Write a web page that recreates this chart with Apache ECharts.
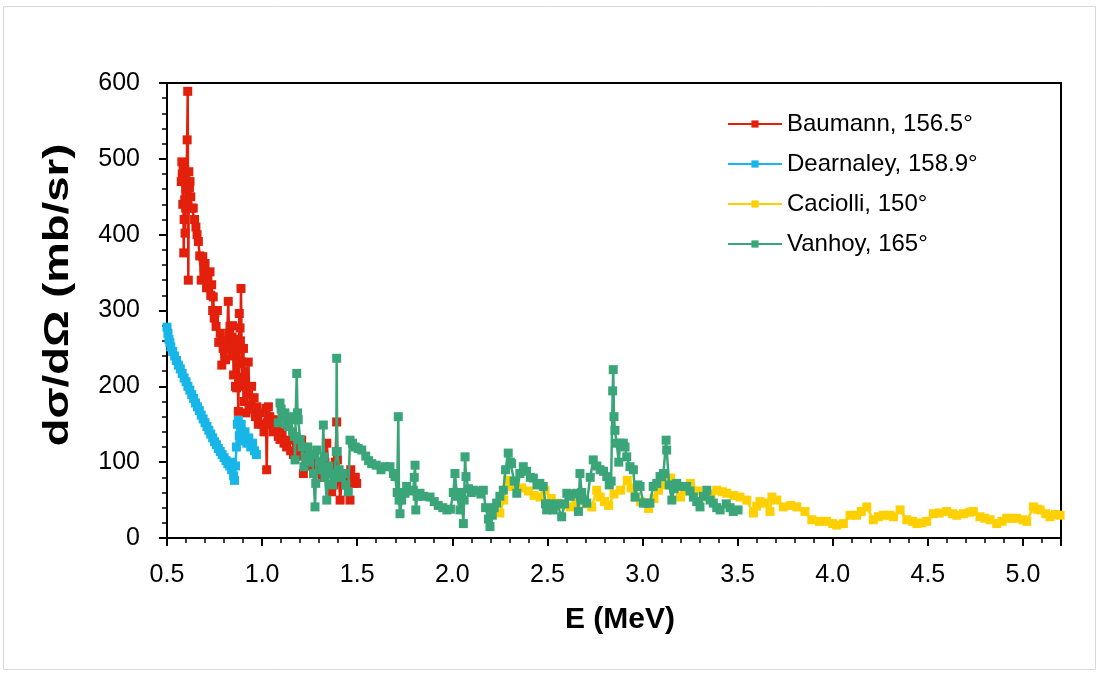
<!DOCTYPE html>
<html>
<head>
<meta charset="utf-8">
<script src="https://cdn.jsdelivr.net/npm/echarts@6/dist/echarts.min.js"></script>
<style>
  html, body { margin: 0; padding: 0; background: #fff; }
  #chart { width: 1099px; height: 675px; }
</style>
</head>
<body>
<div id="chart"></div>
<script>
// series names
var seriesNames = ['Baumann, 156.5°', 'Dearnaley, 158.9°', 'Caciolli, 150°', 'Vanhoy, 165°'];
var seriesColors = ['#e2200c', '#18b6e8', '#ffd000', '#3aa579'];

// x tick labels
var xTicks = ['0.5', '1.0', '1.5', '2.0', '2.5', '3.0', '3.5', '4.0', '4.5', '5.0'];

// Baumann  [E (MeV), dsigma/dOmega (mb/sr)]
var baumann = [
  [0.575, 470], [0.578, 496], [0.580, 480], [0.583, 440], [0.585, 485], [0.588, 376],
  [0.590, 420], [0.593, 446], [0.595, 402], [0.598, 435], [0.600, 460], [0.603, 470],
  [0.606, 525], [0.609, 589], [0.612, 340], [0.615, 483], [0.618, 462], [0.621, 470],
  [0.625, 450], [0.630, 435], [0.638, 435], [0.645, 420], [0.652, 410], [0.658, 400],
  [0.665, 391], [0.672, 372], [0.680, 340], [0.688, 371], [0.695, 350], [0.700, 362],
  [0.708, 330], [0.715, 345], [0.726, 351], [0.730, 320], [0.735, 334], [0.740, 300],
  [0.743, 318], [0.748, 290], [0.752, 297], [0.758, 279], [0.765, 300], [0.772, 258],
  [0.780, 270], [0.788, 228], [0.795, 250], [0.800, 260], [0.808, 235], [0.815, 255],
  [0.822, 312], [0.826, 270], [0.831, 279], [0.836, 250], [0.840, 244], [0.842, 265],
  [0.845, 280], [0.848, 258], [0.850, 215], [0.855, 240], [0.860, 200], [0.862, 262],
  [0.866, 198], [0.868, 248], [0.870, 230], [0.875, 167], [0.878, 235], [0.880, 296],
  [0.884, 277], [0.886, 260], [0.889, 329], [0.893, 232], [0.896, 212], [0.900, 200],
  [0.902, 250], [0.905, 180], [0.908, 205], [0.910, 220], [0.915, 165], [0.919, 190],
  [0.927, 232], [0.935, 175], [0.945, 200], [0.950, 170], [0.958, 185], [0.965, 160],
  [0.972, 173], [0.980, 150], [0.990, 165], [1.000, 150], [1.010, 140], [1.020, 171],
  [1.024, 90], [1.028, 152], [1.033, 173], [1.040, 160], [1.050, 150], [1.060, 140],
  [1.068, 156], [1.075, 142], [1.085, 134], [1.094, 130], [1.105, 140], [1.115, 125],
  [1.129, 120], [1.138, 129], [1.150, 115], [1.165, 110], [1.180, 122], [1.195, 108],
  [1.208, 129], [1.217, 85], [1.225, 116], [1.240, 105], [1.255, 95], [1.270, 110],
  [1.285, 100], [1.300, 90], [1.315, 80], [1.330, 100], [1.340, 125], [1.350, 85],
  [1.360, 90], [1.366, 61], [1.375, 70], [1.385, 100], [1.392, 153], [1.396, 103],
  [1.405, 75], [1.410, 50], [1.420, 80], [1.435, 70], [1.450, 85], [1.462, 50],
  [1.466, 90], [1.480, 72], [1.490, 80], [1.497, 72]
];

// Dearnaley
var dearnaley = [
  [0.500, 278], [0.505, 270], [0.510, 262], [0.515, 258], [0.520, 252], [0.530, 246],
  [0.540, 240], [0.550, 234], [0.560, 228], [0.570, 223], [0.580, 217], [0.590, 211],
  [0.600, 206], [0.610, 200], [0.620, 195], [0.630, 189], [0.640, 184], [0.650, 178],
  [0.660, 173], [0.670, 168], [0.680, 162], [0.690, 157], [0.700, 152], [0.710, 147],
  [0.720, 142], [0.730, 137], [0.740, 132], [0.750, 127], [0.760, 123], [0.770, 118],
  [0.780, 114], [0.790, 110], [0.800, 106], [0.810, 102], [0.820, 98], [0.830, 95],
  [0.840, 90], [0.845, 100], [0.850, 82], [0.855, 76], [0.860, 95], [0.865, 120],
  [0.870, 150], [0.875, 155], [0.880, 135], [0.885, 128], [0.890, 150], [0.895, 140],
  [0.900, 130], [0.910, 140], [0.920, 125], [0.930, 132], [0.940, 120], [0.950, 125],
  [0.960, 115], [0.970, 110]
];

// Caciolli
var caciolli = [
  [2.250, 33], [2.270, 50], [2.290, 76], [2.310, 68], [2.330, 72], [2.365, 66],
  [2.400, 62], [2.430, 56], [2.461, 54], [2.487, 63], [2.520, 52], [2.550, 46],
  [2.590, 44], [2.619, 41], [2.650, 46], [2.680, 50], [2.705, 45], [2.733, 41],
  [2.759, 63], [2.777, 54], [2.800, 48], [2.822, 43], [2.850, 58], [2.885, 63],
  [2.920, 76], [2.940, 66], [2.961, 54], [2.990, 48], [3.032, 39], [3.060, 52],
  [3.084, 63], [3.120, 70], [3.148, 79], [3.170, 66], [3.200, 54], [3.220, 62],
  [3.252, 72], [3.290, 62], [3.338, 54], [3.360, 58], [3.390, 63], [3.420, 61],
  [3.443, 59], [3.480, 56], [3.512, 54], [3.548, 50], [3.583, 33], [3.600, 42],
  [3.618, 48], [3.645, 46], [3.670, 35], [3.680, 54], [3.706, 50], [3.740, 41],
  [3.780, 43], [3.811, 41], [3.854, 35], [3.890, 24], [3.930, 22], [3.968, 22],
  [4.000, 19], [4.021, 17], [4.056, 19], [4.091, 30], [4.126, 30], [4.150, 35],
  [4.179, 41], [4.213, 24], [4.240, 28], [4.266, 30], [4.300, 30], [4.319, 28],
  [4.354, 37], [4.389, 24], [4.420, 22], [4.442, 19], [4.470, 20], [4.494, 22],
  [4.529, 32], [4.560, 33], [4.599, 35], [4.630, 32], [4.652, 30], [4.687, 32],
  [4.720, 34], [4.739, 35], [4.774, 28], [4.800, 26], [4.827, 24], [4.862, 19],
  [4.890, 22], [4.915, 26], [4.940, 26], [4.967, 26], [5.000, 24], [5.020, 22],
  [5.055, 41], [5.075, 38], [5.090, 37], [5.120, 32], [5.142, 28], [5.170, 31], [5.195, 30]
];

// Vanhoy
var vanhoy = [
  [1.085, 152], [1.094, 178], [1.100, 170], [1.110, 160], [1.120, 165], [1.130, 150],
  [1.138, 147], [1.150, 160], [1.160, 140], [1.170, 134], [1.173, 103], [1.176, 156],
  [1.182, 217], [1.186, 165], [1.190, 156], [1.200, 130], [1.210, 120], [1.220, 94],
  [1.226, 107], [1.240, 120], [1.250, 100], [1.260, 110], [1.270, 85], [1.278, 41],
  [1.282, 72], [1.287, 116], [1.300, 100], [1.315, 90], [1.322, 149], [1.326, 107],
  [1.331, 80], [1.340, 50], [1.350, 95], [1.360, 85], [1.370, 70], [1.380, 80],
  [1.390, 114], [1.392, 237], [1.395, 114], [1.405, 90], [1.415, 80], [1.427, 85],
  [1.440, 70], [1.453, 61], [1.462, 129], [1.475, 125], [1.490, 120], [1.505, 118],
  [1.524, 116], [1.545, 108], [1.560, 102], [1.576, 98], [1.600, 96], [1.625, 90],
  [1.646, 94], [1.672, 94], [1.690, 85], [1.699, 81], [1.710, 60], [1.716, 160],
  [1.720, 50], [1.725, 32], [1.734, 50], [1.745, 60], [1.751, 59], [1.760, 68],
  [1.775, 62], [1.795, 63], [1.800, 80], [1.804, 96], [1.808, 37], [1.815, 55],
  [1.830, 59], [1.850, 55], [1.883, 54], [1.905, 48], [1.926, 43], [1.950, 40],
  [1.971, 37], [1.990, 38], [2.005, 60], [2.014, 85], [2.025, 55], [2.040, 37],
  [2.050, 60], [2.058, 19], [2.062, 50], [2.067, 107], [2.072, 81], [2.085, 65],
  [2.100, 60], [2.110, 63], [2.130, 62], [2.150, 58], [2.163, 63], [2.175, 40],
  [2.190, 25], [2.198, 15], [2.210, 30], [2.220, 40], [2.233, 46], [2.250, 55],
  [2.268, 63], [2.280, 90], [2.294, 112], [2.305, 100], [2.312, 98], [2.325, 75],
  [2.339, 59], [2.355, 85], [2.373, 94], [2.390, 88], [2.410, 80], [2.426, 79],
  [2.445, 70], [2.460, 72], [2.478, 68], [2.490, 45], [2.496, 37], [2.510, 45],
  [2.531, 37], [2.550, 45], [2.575, 28], [2.590, 45], [2.602, 59], [2.620, 55],
  [2.640, 58], [2.654, 59], [2.663, 35], [2.671, 85], [2.680, 60], [2.695, 50],
  [2.707, 46], [2.725, 80], [2.741, 103], [2.760, 95], [2.777, 90], [2.795, 88],
  [2.812, 81], [2.825, 70], [2.835, 75], [2.843, 194], [2.846, 222], [2.850, 160],
  [2.855, 142], [2.864, 125], [2.875, 100], [2.882, 125], [2.899, 125], [2.908, 120],
  [2.917, 107], [2.934, 94], [2.952, 90], [2.961, 54], [2.975, 70], [2.987, 68],
  [3.004, 46], [3.022, 46], [3.039, 46], [3.056, 68], [3.075, 72], [3.092, 81],
  [3.101, 81], [3.110, 85], [3.124, 129], [3.127, 116], [3.140, 70], [3.154, 50],
  [3.165, 65], [3.180, 72], [3.200, 68], [3.232, 68], [3.250, 62], [3.267, 54],
  [3.285, 48], [3.302, 41], [3.320, 55], [3.338, 63], [3.355, 50], [3.372, 46],
  [3.390, 40], [3.408, 37], [3.440, 45], [3.460, 40], [3.477, 35], [3.502, 37]
];

var seriesData = [baumann, dearnaley, caciolli, vanhoy];

var myChart = echarts.init(document.getElementById('chart'));
var font = 'Liberation Sans, Arial, sans-serif';

var option = {
  animation: false,
  backgroundColor: '#fff',
  graphic: [{
    type: 'rect',
    shape: { x: 3.5, y: 6.5, width: 1092, height: 663 },
    style: { fill: 'none', stroke: '#d9d9d9', lineWidth: 1 },
    silent: true
  }, {
    // y axis title
    type: 'text',
    x: 58, y: 295,
    rotation: Math.PI / 2,
    scaleX: 1.3,
    style: {
      text: 'dσ/dΩ (mb/sr)',
      font: 'bold 35px Liberation Sans, Arial, sans-serif',
      fill: '#000', align: 'center', verticalAlign: 'middle'
    },
    silent: true
  }, {
    // x axis title
    type: 'text',
    x: 620, y: 620,
    style: {
      text: 'E (MeV)',
      font: 'bold 30px Liberation Sans, Arial, sans-serif',
      fill: '#000', align: 'center', verticalAlign: 'middle'
    },
    silent: true
  }],
  grid: {
    left: 167, right: 38, top: 83, bottom: 137,
    show: true, borderColor: '#000', borderWidth: 2, backgroundColor: 'transparent'
  },
  legend: {
    orient: 'vertical',
    left: 722, top: 107,
    itemWidth: 54, itemHeight: 9, itemGap: 16,
    textStyle: { fontFamily: font, fontSize: 24, color: '#000' },
    data: seriesNames
  },
  xAxis: {
    type: 'value',
    min: 0.5, max: 5.2, interval: 0.5,
    axisLine: { lineStyle: { color: '#000', width: 2 } },
    axisTick: { show: true, length: 8, lineStyle: { color: '#000', width: 2 } },
    minorTick: { show: true, splitNumber: 5, length: 5, lineStyle: { color: '#000', width: 1.5 } },
    splitLine: { show: false },
    axisLabel: {
      fontFamily: font, fontSize: 25, color: '#000', margin: 25, showMaxLabel: false,
      formatter: function (v) {
        var s = v.toFixed(1);
        return xTicks.indexOf(s) >= 0 ? s : '';
      }
    }
  },
  yAxis: {
    type: 'value',
    min: 0, max: 600, interval: 100,
    axisLine: { show: true, lineStyle: { color: '#000', width: 2 } },
    axisTick: { show: true, length: 8, lineStyle: { color: '#000', width: 2 } },
    minorTick: { show: true, splitNumber: 5, length: 5, lineStyle: { color: '#000', width: 1.5 } },
    splitLine: { show: false },
    axisLabel: { fontFamily: font, fontSize: 25, color: '#000', margin: 27 }
  },
  series: seriesNames.map(function (name, i) {
    return {
      name: name,
      type: 'line',
      data: seriesData[i],
      color: seriesColors[i],
      symbol: 'rect',
      symbolSize: 9,
      showAllSymbol: true,
      lineStyle: { width: 2.5 },
      z: 2 + i
    };
  })
};

myChart.setOption(option);
</script>
</body>
</html>
